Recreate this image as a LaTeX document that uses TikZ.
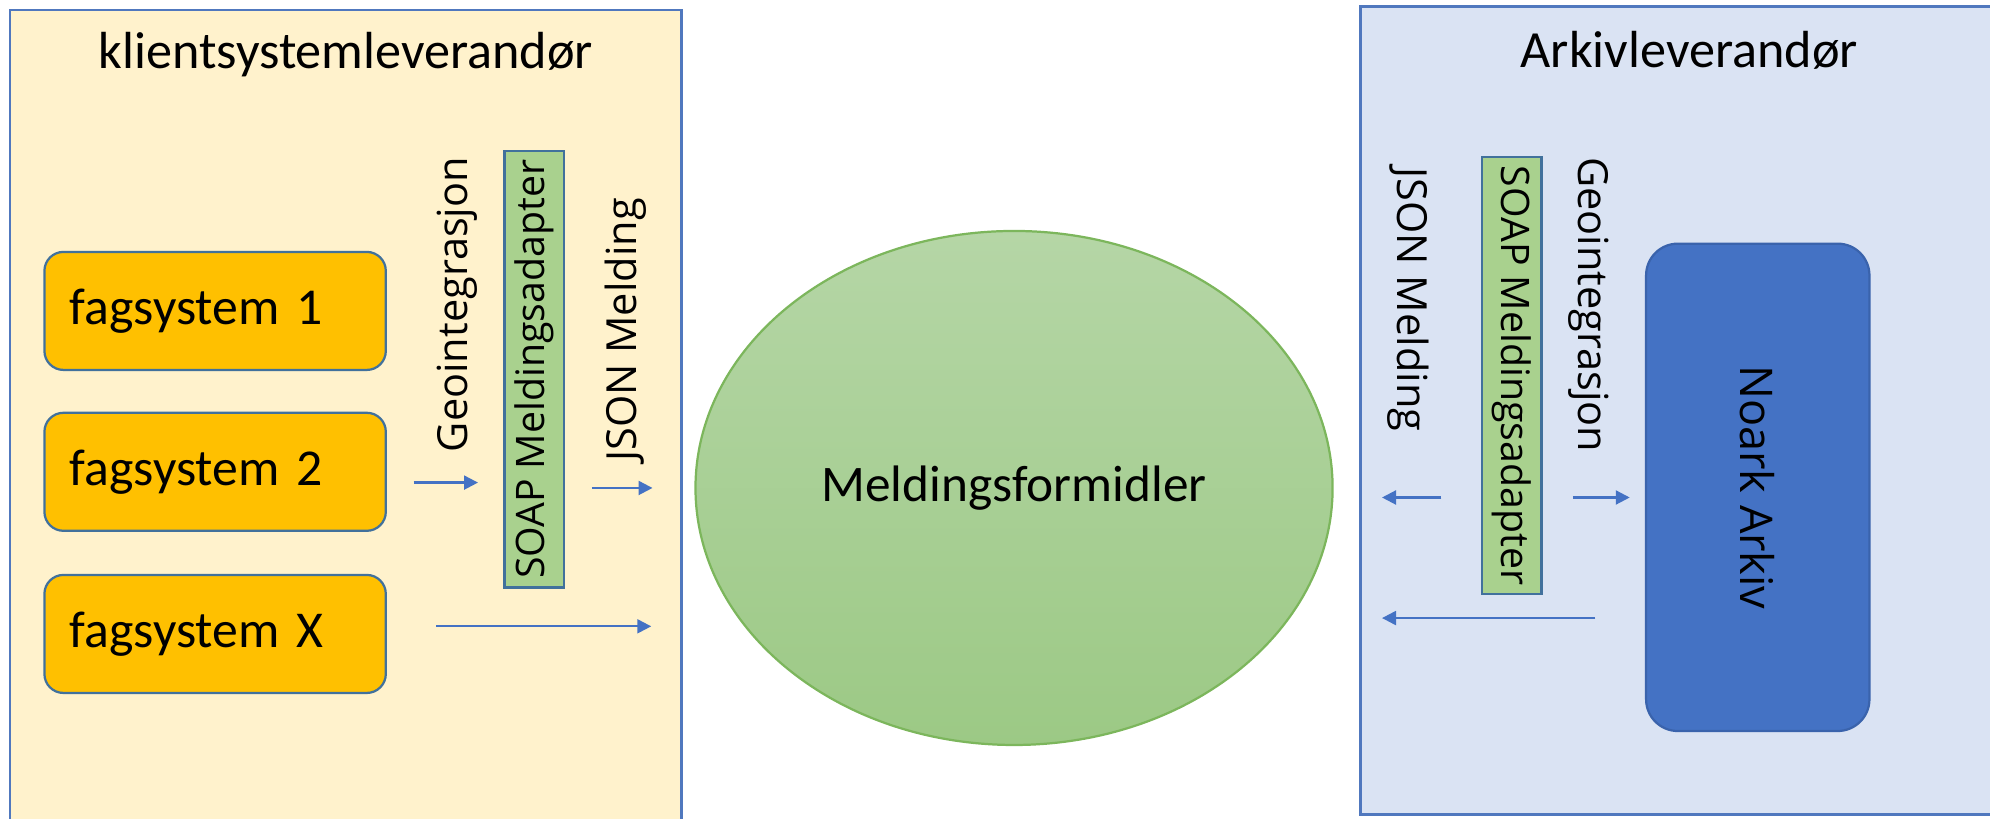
\documentclass[tikz,border=0pt]{standalone}
\usepackage{fontspec}
\setmainfont{Carlito}
\newfontfamily\segfont{Open Sans}
\usepackage{tikz}
\usetikzlibrary{shapes.geometric}
\usetikzlibrary{arrows.meta,positioning}
\definecolor{klientbg}{HTML}{FFF2CC}
\definecolor{arkivbg}{HTML}{DAE3F3}
\definecolor{panelline}{HTML}{5078BE}
\definecolor{boxline}{HTML}{41719C}
\definecolor{fagorange}{HTML}{FFC000}
\definecolor{soapgreen}{HTML}{A9D18E}
\definecolor{meldtop}{HTML}{B5D6A6}
\definecolor{meldbot}{HTML}{9CC985}
\definecolor{meldline}{HTML}{7CB65C}
\definecolor{noarkblue}{HTML}{4472C4}
\definecolor{noarkline}{HTML}{3A63AC}
\definecolor{flowblue}{HTML}{4472C4}
\tikzstyle{panel}=[draw=panelline, line width=0.6pt, inner sep=0pt]
\tikzstyle{title}=[inner sep=0pt, font=\fontsize{11.7}{14}\selectfont]
\tikzstyle{fag node}=[draw=boxline, fill=fagorange, line width=0.5pt, rounded corners=1.5mm, minimum width=2.69cm, minimum height=0.93cm, text width=2.29cm, align=left, inner xsep=2mm, font=\fontsize{11.6}{14}\selectfont]
\tikzstyle{soap node}=[draw=boxline, fill=soapgreen, line width=0.5pt, minimum width=3.44cm, minimum height=0.47cm, inner sep=0pt, font=\segfont\fontsize{8.8}{10}\selectfont]
\tikzstyle{side label}=[inner sep=0pt, font=\segfont\fontsize{9.3}{11}\selectfont]
\tikzstyle{meld node}=[ellipse, draw=meldline, line width=0.5pt, top color=meldtop, bottom color=meldbot, minimum width=5.02cm, minimum height=4.05cm, inner sep=0pt, font=\fontsize{11.5}{14}\selectfont]
\tikzstyle{noark node}=[draw=noarkline, fill=noarkblue, line width=0.5pt, rounded corners=2.5mm, minimum width=3.84cm, minimum height=1.76cm, inner sep=0pt, font=\segfont\fontsize{10.1}{12}\selectfont]
\tikzstyle{flow}=[draw=flowblue, line width=0.5pt, -{Triangle[length=1.1mm,width=1.1mm]}]

\begin{document}
\begin{tikzpicture}

  \useasboundingbox (0,0) rectangle (15.68,-6.45);
  \clip (0,0) rectangle (15.68,-6.45);

  % the two suppliers
  \node[panel, fill=klientbg, minimum width=5.29cm, minimum height=6.52cm] (klient) at (2.725,-3.34) {};
  \node[panel, fill=arkivbg, minimum width=5.18cm, minimum height=6.37cm] (arkiv) at (13.31,-3.235) {};
  \node[title] (klientT) at ([yshift=-3.6mm]klient.north) {klientsystemleverandør};
  \node[title] (arkivT) at ([yshift=-3.6mm]arkiv.north) {Arkivleverandør};

  \node[fag node] (fag1) at (1.695,-2.45) {fagsystem 1};
  \node[fag node] (fag2) [below=0.32cm of fag1] {fagsystem 2};
  \node[fag node] (fagx) [below=0.33cm of fag2] {fagsystem X};

  \node[soap node, rotate=90] (soap1) at (4.21,-2.91) {SOAP Meldingsadapter};
  \node[side label, rotate=90] (geo1) at (3.60,-2.40) {Geointegrasjon};
  \node[side label, rotate=90] (json1) at (4.93,-2.60) {JSON Melding};

  \node[meld node] (meld) at (7.99,-3.845) {Meldingsformidler};

  \node[soap node, rotate=-90] (soap2) at (11.91,-2.96) {SOAP Meldingsadapter};
  \node[side label, rotate=-90] (json2) at (11.10,-2.36) {JSON Melding};
  \node[side label, rotate=-90] (geo2) at (12.52,-2.40) {Geointegrasjon};
  \node[noark node, rotate=-90] (noark) at (13.85,-3.84) {Noark Arkiv};

  % arrow rows
  \coordinate (r2) at ([yshift=-0.85mm]fag2.east);
  \coordinate (rx) at ([yshift=0.6mm]fagx.east);
  \coordinate (r4) at ([yshift=-0.8mm]noark.south);
  \coordinate (r6) at ([yshift=-10.3mm]noark.south);

  \draw[flow, shorten <=2.1mm, shorten >=2mm] (r2) -- (r2 -| soap1.north);
  \draw[flow, shorten <=2.1mm, shorten >=3.3mm] (soap1.south |- meld.west) -- (meld.west);
  \draw[flow, shorten <=3.9mm, shorten >=3.4mm] (rx) -- (rx -| meld.west);
  \draw[flow, shorten <=3.1mm, shorten >=1.8mm] (soap2.south |- r4) -- (arkiv.west |- r4);
  \draw[flow, shorten <=2.4mm, shorten >=1.2mm] (soap2.north |- r4) -- (r4);
  \draw[flow, shorten <=3.9mm, shorten >=1.8mm] (r6) -- (arkiv.west |- r6);

\end{tikzpicture}
\end{document}
